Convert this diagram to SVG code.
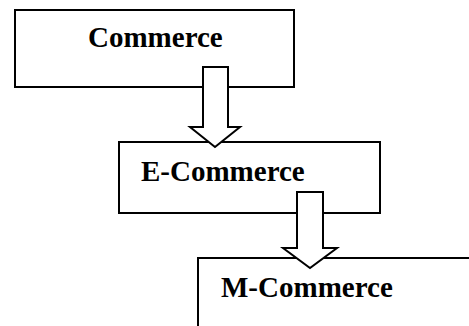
<svg xmlns="http://www.w3.org/2000/svg" width="469" height="326" viewBox="0 0 469 326">
<style>
.box{fill:#fff;stroke:#000;stroke-width:2}
.arr{fill:#fff;stroke:#000;stroke-width:2;stroke-linejoin:miter}
text{font-family:"Liberation Serif","Times New Roman",serif;font-weight:bold;font-size:29px;fill:#000}
</style>
<rect width="469" height="326" fill="#fff"/>
<g id="commerce"><rect class="box" x="15" y="10" width="279" height="77"/><text x="88" y="47">Commerce</text></g>
<g id="ecommerce"><rect class="box" x="119" y="142" width="261" height="71"/><text x="141" y="181">E-Commerce</text></g>
<g id="mcommerce"><rect class="box" x="198" y="258" width="280" height="80"/><text x="221" y="297">M-Commerce</text></g>
<g id="connectors">
<path class="arr" d="M203,67 H228 V127 H240 L215,147 L190,127 H203 Z"/>
<path class="arr" d="M297,192 H323 V248 H337 L310,268 L283,248 H297 Z"/>
</g>
</svg>
